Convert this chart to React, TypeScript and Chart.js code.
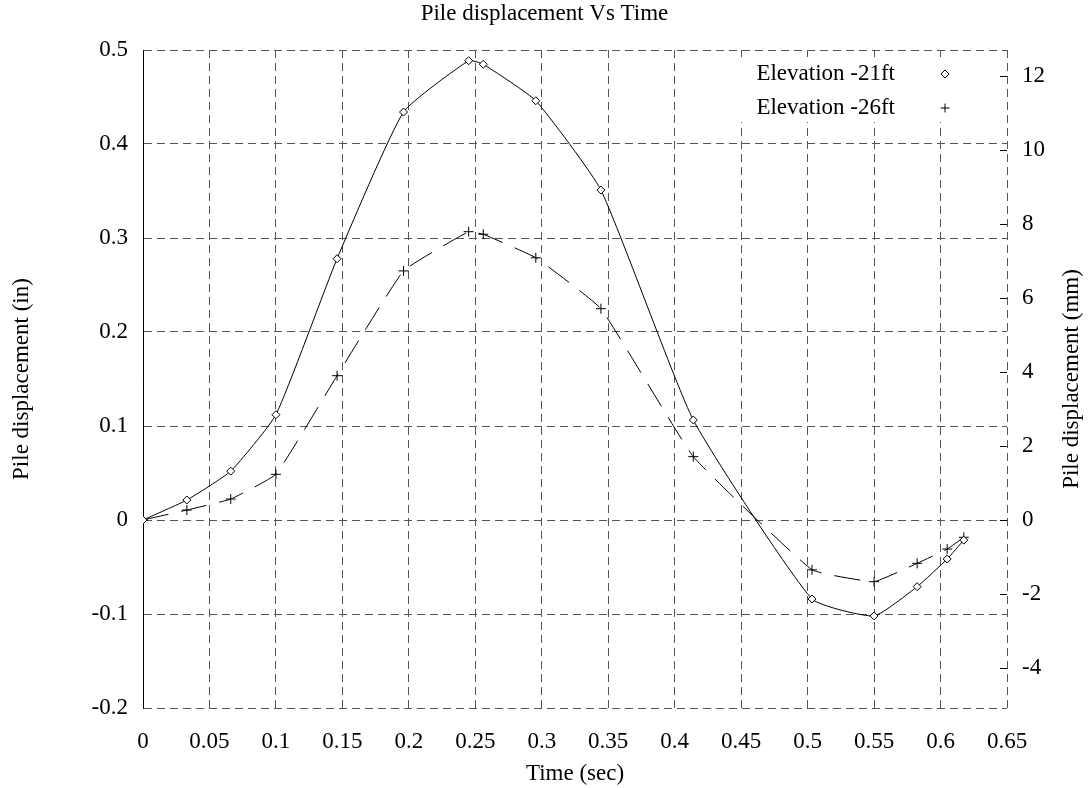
import { useEffect, useRef } from 'react';
import { Chart, registerables } from 'chart.js';

Chart.register(...registerables);

// ---- data ----
const timeSec = [0, 0.033, 0.066, 0.1, 0.146, 0.196, 0.245, 0.256, 0.2955, 0.3445, 0.414, 0.5033, 0.55, 0.5824, 0.605, 0.6175];
const elevation21 = [0, 0.0213, 0.052, 0.112, 0.278, 0.434, 0.4886, 0.4848, 0.446, 0.351, 0.1064, -0.084, -0.1021, -0.0709, -0.0415, -0.0214];
const elevation26 = [0, 0.0106, 0.0223, 0.0486, 0.1535, 0.265, 0.3067, 0.304, 0.279, 0.2248, 0.0674, -0.053, -0.0656, -0.0461, -0.0309, -0.0184];

const seriesLabels = ['Elevation -21ft', 'Elevation -26ft'];

const xTicks = [0, 0.05, 0.1, 0.15, 0.2, 0.25, 0.3, 0.35, 0.4, 0.45, 0.5, 0.55, 0.6, 0.65];
const xTickLabels = ['0', '0.05', '0.1', '0.15', '0.2', '0.25', '0.3', '0.35', '0.4', '0.45', '0.5', '0.55', '0.6', '0.65'];
const inTicks = [-0.2, -0.1, 0, 0.1, 0.2, 0.3, 0.4, 0.5];
const inTickLabels = ['-0.2', '-0.1', '0', '0.1', '0.2', '0.3', '0.4', '0.5'];
const mmTicks = [-4, -2, 0, 2, 4, 6, 8, 10, 12];
const mmTickLabels = ['-4', '-2', '0', '2', '4', '6', '8', '10', '12'];

const xRange = [0, 0.65];
const inRange = [-0.2, 0.5];
const MM_PER_IN = 25.4;

const FONT = "'Liberation Serif', 'Times New Roman', serif";
const FS = 23;

const overlayPlugin = {
  id: 'overlay',
  beforeDatasetsDraw(chart: any) {
    const { ctx, chartArea } = chart;
    // legend box (blanks the grid behind it)
    ctx.save();
    ctx.fillStyle = '#fff';
    ctx.fillRect(chartArea.right - 270, chartArea.top + 7, 262, 65);
    ctx.font = `${FS}px ${FONT}`;
    ctx.fillStyle = '#000';
    ctx.textAlign = 'right';
    ctx.textBaseline = 'middle';
    const textRight = chartArea.right - 112;
    const markX = chartArea.right - 62;
    const rows = [chartArea.top + 24, chartArea.top + 58];
    chart.data.datasets.forEach((ds: any, i: number) => {
      const y = rows[i];
      ctx.fillText(ds.label, textRight, y);
      ctx.strokeStyle = '#000';
      ctx.lineWidth = 1;
      ctx.beginPath();
      if (ds.pointStyle === 'rectRot') {
        const r = 4;
        ctx.moveTo(markX, y - r);
        ctx.lineTo(markX + r, y);
        ctx.lineTo(markX, y + r);
        ctx.lineTo(markX - r, y);
        ctx.closePath();
      } else {
        const r = 4.5;
        ctx.moveTo(markX - r, y);
        ctx.lineTo(markX + r, y);
        ctx.moveTo(markX, y - r);
        ctx.lineTo(markX, y + r);
      }
      ctx.stroke();
    });
    ctx.restore();
  },
  afterDraw(chart: any) {
    const { ctx, chartArea } = chart;
    const y2 = chart.scales.y2;
    ctx.save();
    ctx.strokeStyle = '#000';
    ctx.lineWidth = 1;
    ctx.beginPath();
    y2.ticks.forEach((t: any) => {
      const py = Math.round(y2.getPixelForValue(t.value)) + 0.5;
      ctx.moveTo(chartArea.right, py);
      ctx.lineTo(chartArea.right - 7, py);
    });
    ctx.stroke();
    // right axis title
    ctx.font = `${FS}px ${FONT}`;
    ctx.fillStyle = '#000';
    ctx.textAlign = 'center';
    ctx.textBaseline = 'middle';
    ctx.translate(1072, (chartArea.top + chartArea.bottom) / 2);
    ctx.rotate(-Math.PI / 2);
    ctx.fillText('Pile displacement (mm)', 0, 0);
    ctx.restore();
  },
};

export default function App() {
  const ref = useRef<HTMLCanvasElement>(null);

  useEffect(() => {
    document.body.style.margin = '0';
    const canvas = ref.current!;
    const font = { family: FONT, size: FS, weight: 'normal' as const };
    const chart = new Chart(canvas, {
      type: 'line',
      data: {
        datasets: [
          {
            label: seriesLabels[0],
            data: timeSec.map((t, i) => ({ x: t, y: elevation21[i] })),
            borderColor: '#000',
            borderWidth: 1,
            pointStyle: 'rectRot',
            pointRadius: 4,
            pointBackgroundColor: '#fff',
            pointBorderColor: '#000',
            pointBorderWidth: 1,
            tension: 0.15,
            yAxisID: 'y',
          },
          {
            label: seriesLabels[1],
            data: timeSec.map((t, i) => ({ x: t, y: elevation26[i] })),
            borderColor: '#000',
            borderWidth: 1,
            borderDash: [26, 13],
            pointStyle: 'cross',
            pointRadius: 5,
            pointBorderColor: '#000',
            pointBorderWidth: 1,
            tension: 0.1,
            yAxisID: 'y',
          },
        ],
      },
      options: {
        responsive: false,
        animation: false,
        devicePixelRatio: 1,
        layout: { padding: 0 },
        plugins: {
          legend: { display: false },
          tooltip: { enabled: false },
          title: {
            display: true,
            text: 'Pile displacement Vs Time',
            font,
            color: '#000',
            padding: { top: 0, bottom: 22.4 },
          },
        },
        scales: {
          x: {
            type: 'linear',
            position: 'bottom',
            min: xRange[0],
            max: xRange[1],
            afterBuildTicks: (s: any) => {
              s.ticks = xTicks.map((v) => ({ value: v }));
            },
            afterFit: (s: any) => {
              s.height = 80;
            },
            ticks: {
              callback: (_v: any, i: number) => xTickLabels[i],
              font,
              color: '#000',
              padding: 20,
              autoSkip: false,
              maxRotation: 0,
            },
            grid: { color: '#555', lineWidth: 1, drawTicks: false },
            border: { display: false, dash: [8, 5] },
            title: { display: true, text: 'Time (sec)', font, color: '#000', padding: { top: 0, bottom: 0 } },
          },
          y: {
            type: 'linear',
            position: 'left',
            min: inRange[0],
            max: inRange[1],
            afterBuildTicks: (s: any) => {
              s.ticks = inTicks.map((v) => ({ value: v }));
            },
            afterFit: (s: any) => {
              s.width = 143;
            },
            ticks: {
              callback: (_v: any, i: number) => inTickLabels[i],
              font,
              color: '#000',
              padding: 15,
            },
            grid: { color: '#555', lineWidth: 1, drawTicks: false },
            border: { display: true, color: '#000', width: 1, dash: [8, 5] },
            title: { display: true, text: 'Pile displacement (in)', font, color: '#000', padding: { top: 8, bottom: 0 } },
          },
          y2: {
            type: 'linear',
            position: 'right',
            min: inRange[0] * MM_PER_IN,
            max: inRange[1] * MM_PER_IN,
            afterBuildTicks: (s: any) => {
              s.ticks = mmTicks.map((v) => ({ value: v }));
            },
            afterFit: (s: any) => {
              s.width = 82;
            },
            ticks: {
              callback: (_v: any, i: number) => mmTickLabels[i],
              font,
              color: '#000',
              padding: 15,
            },
            grid: { display: false, drawTicks: false },
            border: { display: false },
          },
        },
      },
      plugins: [overlayPlugin],
    });
    return () => chart.destroy();
  }, []);

  return (
    <div style={{ width: 1089, height: 788, background: '#fff' }}>
      <canvas ref={ref} width={1089} height={788} style={{ display: 'block' }} />
    </div>
  );
}
